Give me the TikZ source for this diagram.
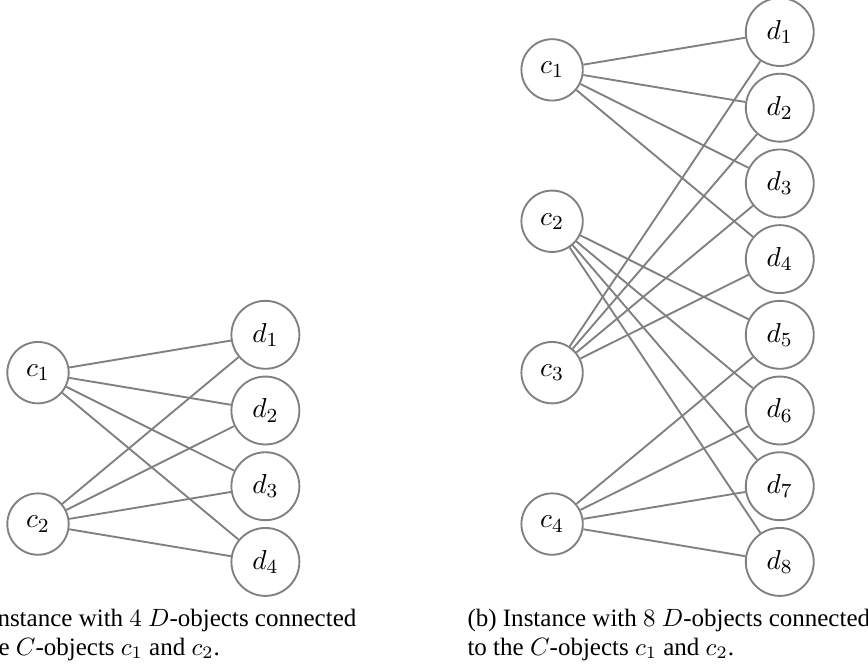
\documentclass[tikz,border=0pt]{standalone}
\usepackage[no-math]{fontspec}
\setmainfont{Liberation Serif}
\usepackage{amsmath}
\usepackage{tikz}

\begin{document}
\begin{tikzpicture}[
    vertex/.style = {circle, draw = gray, line width = 0.75pt, inner sep = 4.7pt, font = \fontsize{11}{13}\selectfont},
    link/.style = {draw = gray, line width = 0.75pt},
    capline/.style = {anchor = base west, inner sep = 0pt}]
            \useasboundingbox (0,0) rectangle (12.2,-9.361);
            % (a) four D-objects
            \node[vertex] (lc1) at (0.534,-5.238) {$c_1$};
            \node[vertex] (lc2) at (0.534,-7.366) {$c_2$};
            \node[vertex] (ld1) at (3.73,-4.706) {$d_1$};
            \node[vertex] (ld2) at (3.73,-5.770) {$d_2$};
            \node[vertex] (ld3) at (3.73,-6.834) {$d_3$};
            \node[vertex] (ld4) at (3.73,-7.898) {$d_4$};
            \draw[link] (lc1) -- (ld1) (lc1) -- (ld2) (lc1) -- (ld3) (lc1) -- (ld4);
            \draw[link] (lc2) -- (ld1) (lc2) -- (ld2) (lc2) -- (ld3) (lc2) -- (ld4);
            \node[capline] (capa1) at (-0.042,-8.799) {nstance with $4$ $D$-objects connected};
            \node[capline] (capa2) at (-0.028,-9.207) {e $C$-objects $c_1$ and $c_2$.};
            % (b) eight D-objects
            \node[vertex] (rc1) at (7.76,-0.982) {$c_1$};
            \node[vertex] (rc2) at (7.76,-3.110) {$c_2$};
            \node[vertex] (rc3) at (7.76,-5.238) {$c_3$};
            \node[vertex] (rc4) at (7.76,-7.366) {$c_4$};
            \node[vertex] (rd1) at (10.96,-0.450) {$d_1$};
            \node[vertex] (rd2) at (10.96,-1.514) {$d_2$};
            \node[vertex] (rd3) at (10.96,-2.578) {$d_3$};
            \node[vertex] (rd4) at (10.96,-3.642) {$d_4$};
            \node[vertex] (rd5) at (10.96,-4.706) {$d_5$};
            \node[vertex] (rd6) at (10.96,-5.770) {$d_6$};
            \node[vertex] (rd7) at (10.96,-6.834) {$d_7$};
            \node[vertex] (rd8) at (10.96,-7.898) {$d_8$};
            \draw[link] (rc1) -- (rd1) (rc1) -- (rd2) (rc1) -- (rd3) (rc1) -- (rd4);
            \draw[link] (rc3) -- (rd1) (rc3) -- (rd2) (rc3) -- (rd3) (rc3) -- (rd4);
            \draw[link] (rc2) -- (rd5) (rc2) -- (rd6) (rc2) -- (rd7) (rc2) -- (rd8);
            \draw[link] (rc4) -- (rd5) (rc4) -- (rd6) (rc4) -- (rd7) (rc4) -- (rd8);
            \node[capline] (capb1) at (6.564,-8.799) {(b) Instance with $8$ $D$-objects connected};
            \node[capline] (capb2) at (6.564,-9.207) {to the $C$-objects $c_1$ and $c_2$.};
        \end{tikzpicture}
\end{document}
